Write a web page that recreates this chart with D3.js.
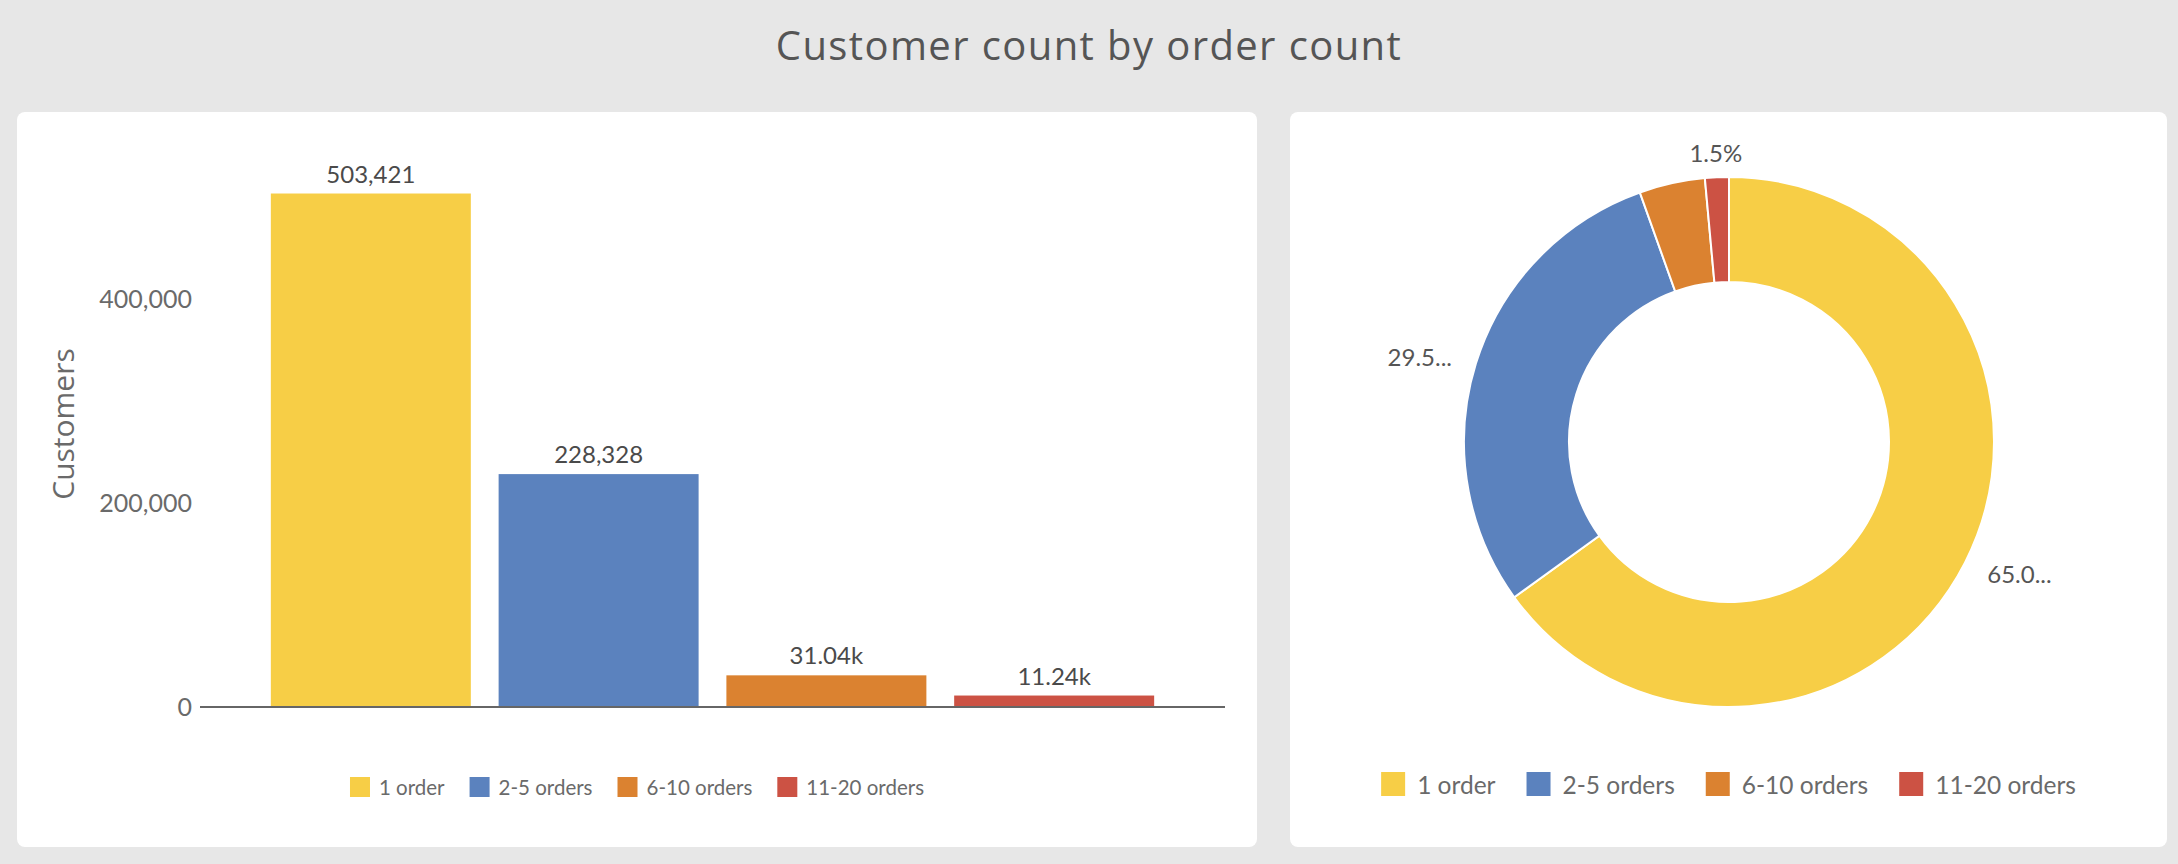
<!DOCTYPE html>
<html>
<head>
<meta charset="UTF-8">
<title>Customer count by order count</title>
<script src="https://d3js.org/d3.v7.min.js"></script>
<style>
  body { margin: 0; background: #e7e7e7; }
  svg { display: block; }
  .axis .domain { display: none; }
  .axis .tick line { visibility: hidden; }
  .axis text { font-family: Lato, sans-serif; font-size: 25px; fill: #6a6a6a; }
</style>
</head>
<body>
<script>
// data
var categories = ["1 order", "2-5 orders", "6-10 orders", "11-20 orders"];
var customers = [503421, 228328, 31040, 11240];
var barLabels = ["503,421", "228,328", "31.04k", "11.24k"];
var sliceLabels = ["65.0...", "29.5...", "", "1.5%"];
var yTicks = [0, 200000, 400000];
var colors = ["#f7ce46", "#5b82be", "#db8230", "#cc5244"];

var W = 2178, H = 864;
var svg = d3.select("body").append("svg").attr("width", W).attr("height", H);

svg.append("text")
  .attr("x", W / 2).attr("y", 44)
  .attr("text-anchor", "middle").attr("dominant-baseline", "central")
  .style("font-family", "'Open Sans', sans-serif").style("font-size", "40px")
  .style("letter-spacing", "1.4px").style("fill", "#555")
  .text("Customer count by order count");

// cards
var leftCard = {x: 17, y: 112, w: 1240, h: 735};
var rightCard = {x: 1290, y: 112, w: 877, h: 735};
[leftCard, rightCard].forEach(function(c) {
  svg.append("rect").attr("x", c.x).attr("y", c.y).attr("width", c.w).attr("height", c.h)
    .attr("rx", 8).attr("fill", "#fff");
});

// ---- bar chart ----
var x = d3.scaleBand().domain(categories).range([200, 1225])
  .paddingInner(0.122).paddingOuter(0.311);
var y = d3.scaleLinear().domain([0, 400000]).range([707, 299]);

svg.append("g").attr("class", "axis")
  .attr("transform", "translate(200,0)")
  .call(d3.axisLeft(y).tickValues(yTicks).tickSize(0).tickPadding(8).tickFormat(d3.format(",")));

svg.selectAll(".bar").data(customers).enter().append("rect")
  .attr("class", "bar")
  .attr("x", function(d, i) { return x(categories[i]); })
  .attr("width", x.bandwidth())
  .attr("y", function(d) { return y(d); })
  .attr("height", function(d) { return y(0) - y(d); })
  .attr("fill", function(d, i) { return colors[i]; });

svg.selectAll(".barlabel").data(customers).enter().append("text")
  .attr("class", "barlabel")
  .attr("x", function(d, i) { return x(categories[i]) + x.bandwidth() / 2; })
  .attr("y", function(d) { return y(d) - 11; })
  .attr("text-anchor", "middle")
  .style("font-family", "Lato, sans-serif").style("font-size", "24px").style("fill", "#4a4a4a")
  .text(function(d, i) { return barLabels[i]; });

svg.append("line")
  .attr("x1", 200).attr("x2", 1225).attr("y1", y(0)).attr("y2", y(0))
  .attr("stroke", "#666").attr("stroke-width", 2);

svg.append("text")
  .attr("transform", "translate(62,424) rotate(-90)")
  .attr("text-anchor", "middle").attr("dominant-baseline", "central")
  .style("font-family", "'Open Sans', sans-serif").style("font-size", "30px").style("fill", "#6a6a6a")
  .text("Customers");

// ---- donut ----
var cx = 1729, cy = 442;
var pie = d3.pie().sort(null)(customers);
var arc = d3.arc().innerRadius(160).outerRadius(265);
var labelArc = d3.arc().innerRadius(290).outerRadius(290);
var donut = svg.append("g").attr("transform", "translate(" + cx + "," + cy + ")");

donut.selectAll("path").data(pie).enter().append("path")
  .attr("d", arc)
  .attr("fill", function(d, i) { return colors[i]; })
  .attr("stroke", "#fff").attr("stroke-width", 2);

donut.selectAll(".slabel").data(pie).enter().append("text")
  .attr("class", "slabel")
  .attr("transform", function(d) { return "translate(" + labelArc.centroid(d) + ")"; })
  .attr("text-anchor", function(d) {
    var s = Math.sin((d.startAngle + d.endAngle) / 2);
    return Math.abs(s) < 0.3 ? "middle" : (s > 0 ? "start" : "end");
  })
  .attr("dominant-baseline", "central")
  .style("font-family", "Lato, sans-serif").style("font-size", "24px").style("fill", "#555")
  .text(function(d, i) { return sliceLabels[i]; });

// ---- legends ----
function legend(cxl, cyl, sw, textOff, gap, fs) {
  var g = svg.append("g");
  var items = g.selectAll("g").data(categories).enter().append("g");
  items.append("rect").attr("width", sw).attr("height", sw).attr("y", -sw / 2)
    .attr("fill", function(d, i) { return colors[i]; });
  items.append("text").attr("x", textOff).attr("dominant-baseline", "central")
    .style("font-family", "Lato, sans-serif").style("font-size", fs + "px").style("fill", "#6a6a6a")
    .text(function(d) { return d; });
  var pos = 0;
  items.each(function() {
    var tw = d3.select(this).select("text").node().getComputedTextLength();
    d3.select(this).attr("transform", "translate(" + pos + ",0)");
    pos += textOff + tw + gap;
  });
  var total = pos - gap;
  g.attr("transform", "translate(" + (cxl - total / 2) + "," + cyl + ")");
}
legend(leftCard.x + leftCard.w / 2, 787, 20, 29, 25, 20.5);
legend(rightCard.x + rightCard.w / 2, 784, 24, 36, 31, 24.5);
</script>
</body>
</html>
